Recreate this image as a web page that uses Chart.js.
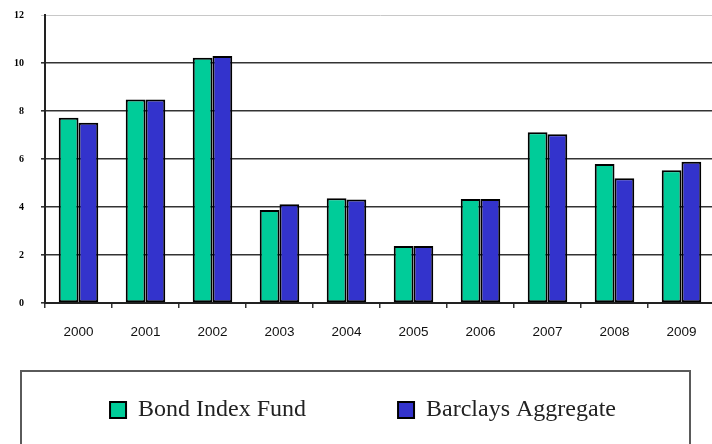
<!DOCTYPE html>
<html>
<head>
<meta charset="utf-8">
<script src="https://cdn.jsdelivr.net/npm/chart.js@4"></script>
<style>
  html, body { margin: 0; padding: 0; background: #fff; overflow: hidden; }
  #wrap { width: 712px; height: 444px; overflow: hidden; }
  canvas { display: block; }
</style>
</head>
<body>
<div id="wrap"><canvas id="c" width="726" height="444"></canvas></div>
<script>
const years = ['2000','2001','2002','2003','2004','2005','2006','2007','2008','2009'];
const bondIndexFund = [7.72, 8.48, 10.22, 3.88, 4.36, 2.38, 4.33, 7.11, 5.79, 5.53];
const barclaysAggregate = [7.51, 8.48, 10.29, 4.11, 4.31, 2.38, 4.33, 7.03, 5.20, 5.89];
const seriesNames = ['Bond Index Fund', 'Barclays Aggregate'];
const yMin = 0, yMax = 12, yStep = 2;

const legendBoxPlugin = {
  id: 'legendBox',
  afterLayout(chart) {
    const lg = chart.legend;
    if (lg) { lg.top = 306; lg.bottom = 444; lg.height = 138; }
  },
  afterDraw(chart) {
    const ctx = chart.ctx;
    ctx.save();
    ctx.strokeStyle = '#5a5a5a';
    ctx.lineWidth = 2;
    ctx.strokeRect(21, 371, 669, 90);
    ctx.restore();
  }
};

new Chart(document.getElementById('c'), {
  type: 'bar',
  data: {
    labels: years,
    datasets: [
      {
        label: seriesNames[0],
        data: bondIndexFund,
        backgroundColor: '#00CC99',
        borderColor: '#000',
        borderWidth: 2,
        borderSkipped: false,
        categoryPercentage: 0.59,
        barPercentage: 1.0
      },
      {
        label: seriesNames[1],
        data: barclaysAggregate,
        backgroundColor: '#3333CC',
        borderColor: '#000',
        borderWidth: 2,
        borderSkipped: false,
        categoryPercentage: 0.59,
        barPercentage: 1.0
      }
    ]
  },
  plugins: [legendBoxPlugin, {
    id: 'legendFit',
    beforeInit(chart) {
      const lg = chart.legend;
      const origFit = lg.fit;
      lg.fit = function() { origFit.call(this); this.height = 74; };
    }
  }],
  options: {
    responsive: false,
    animation: false,
    devicePixelRatio: 1,
    layout: { padding: { left: 11, right: 11, top: 15, bottom: 0 } },
    plugins: {
      tooltip: { enabled: false },
      legend: {
        display: true,
        position: 'bottom',
        labels: {
          boxWidth: 16,
          boxHeight: 16,
          padding: 92,
          color: '#222',
          font: { family: '"Liberation Serif", serif', size: 24 }
        }
      }
    },
    scales: {
      x: {
        afterFit(s) { s.height = 67; },
        grid: {
          display: true,
          drawOnChartArea: false,
          drawTicks: true,
          tickLength: 5,
          color: '#333',
          lineWidth: 1.5,
          offset: true
        },
        border: { display: true, color: '#222', width: 2 },
        ticks: {
          padding: 16,
          color: '#111',
          font: { family: '"Liberation Sans", Arial, sans-serif', size: 13.5 }
        }
      },
      y: {
        min: yMin,
        max: yMax,
        afterFit(s) { s.width = 34; s.paddingTop = 0; s.paddingBottom = 0; },
        grid: {
          color: (c) => (c.tick && c.tick.value === yMax) ? '#c8c8c8' : '#333',
          lineWidth: (c) => (c.tick && c.tick.value === yMax) ? 1 : 1.6,
          tickLength: 4
        },
        border: { display: true, color: '#222', width: 2 },
        ticks: {
          stepSize: yStep,
          padding: 17,
          color: '#000',
          font: { family: '"Liberation Serif", serif', size: 10, weight: 'bold' }
        }
      }
    }
  }
});
</script>
</body>
</html>
